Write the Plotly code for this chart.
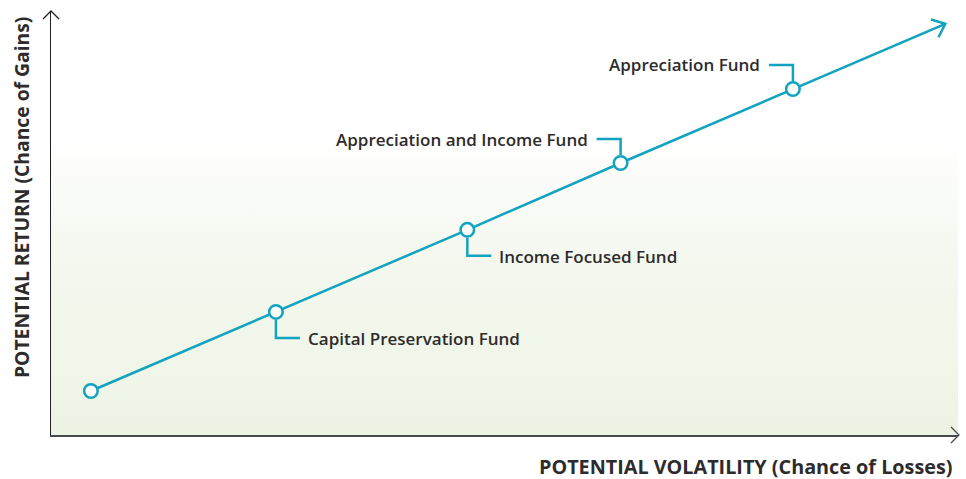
import plotly.graph_objects as go

# ---- data ----
funds = ["Start", "Capital Preservation Fund", "Income Focused Fund",
         "Appreciation and Income Fund", "Appreciation Fund"]
volatility = [4.4, 24.8, 45.9, 62.8, 81.8]      # x, arbitrary 0-100 scale
potential_return = [10.4, 29.1, 48.5, 64.3, 81.8]  # y, arbitrary 0-100 scale
trend_end = (98.6, 97.2)

x_title = "POTENTIAL VOLATILITY (Chance of Losses)"
y_title = "POTENTIAL RETURN (Chance of Gains)"

TEAL = "#12a3bf"
TEXT = "#2e2b2c"
AXIS = "#4a4a4a"
FONT = "Open Sans"

W, H = 966, 479
L, R, T, B = 51, 8, 12, 44

fig = go.Figure()

# gradient background
fig.add_trace(go.Scatter(
    x=[0, 100, 100, 0, 0], y=[0, 0, 70, 70, 0],
    mode="lines", line=dict(width=0), fill="toself",
    fillgradient=dict(type="vertical", start=0, stop=70,
                      colorscale=[[0, "#edf4e4"], [0.6, "#f4f8ef"], [1, "#ffffff"]]),
    hoverinfo="skip", showlegend=False))

# trend line
fig.add_trace(go.Scatter(
    x=volatility + [trend_end[0]], y=potential_return + [trend_end[1]],
    mode="lines", line=dict(color=TEAL, width=2.5),
    hoverinfo="skip", showlegend=False))

# markers
fig.add_trace(go.Scatter(
    x=volatility, y=potential_return, mode="markers",
    marker=dict(size=13.5, color="white", line=dict(color=TEAL, width=2.5)),
    text=funds, hoverinfo="text", showlegend=False))

shapes = []
annotations = []

LABEL_FONT = dict(family=FONT, size=17, color=TEXT, weight=600)

# callouts: (index, direction)
callouts = [(1, "down"), (2, "down"), (3, "up"), (4, "up")]
for i, d in callouts:
    x, y = volatility[i], potential_return[i]
    if d == "down":
        path = "M0,-8 L0,-26 L24,-26"
        annotations.append(dict(x=x, y=y, xref="x", yref="y", text=funds[i],
                                showarrow=False, xanchor="left", yanchor="middle",
                                xshift=30, yshift=-27, font=LABEL_FONT))
    else:
        path = "M0,8 L0,24 L-24,24"
        annotations.append(dict(x=x, y=y, xref="x", yref="y", text=funds[i],
                                showarrow=False, xanchor="right", yanchor="middle",
                                xshift=-31, yshift=24, font=LABEL_FONT))
    shapes.append(dict(type="path", xref="x", yref="y", xsizemode="pixel", ysizemode="pixel",
                       xanchor=x, yanchor=y, path=path,
                       line=dict(color=TEAL, width=2.5), layer="above"))

# trend arrow chevron
shapes.append(dict(type="path", xref="x", yref="y", xsizemode="pixel", ysizemode="pixel",
                   xanchor=trend_end[0], yanchor=trend_end[1],
                   path="M-14.3,4.4 L0,0 L-6.8,-13.4",
                   line=dict(color=TEAL, width=2.5)))
# axis chevrons (paper refs so they are not clipped)
shapes.append(dict(type="path", xref="paper", yref="paper", xsizemode="pixel", ysizemode="pixel",
                   xanchor=0, yanchor=1, path="M-8,-7 L0,1 L8,-7",
                   line=dict(color="#222", width=1.3)))
shapes.append(dict(type="path", xref="paper", yref="paper", xsizemode="pixel", ysizemode="pixel",
                   xanchor=1, yanchor=0, path="M-7,8 L1,0 L-7,-8",
                   line=dict(color=AXIS, width=1.3)))

# axis titles
annotations.append(dict(xref="paper", yref="paper",
                        x=(21 - L) / (W - L - R), y=(H - B - 198) / (H - T - B),
                        text=y_title, textangle=-90, showarrow=False,
                        xanchor="center", yanchor="middle",
                        font=dict(family=FONT, size=19.3, color=TEXT, weight=700)))
annotations.append(dict(xref="paper", yref="paper",
                        x=(954 - L) / (W - L - R), y=-(466 - (H - B)) / (H - T - B),
                        text=x_title, showarrow=False,
                        xanchor="right", yanchor="middle",
                        font=dict(family=FONT, size=19.8, color=TEXT, weight=700)))

fig.update_layout(
    width=W, height=H,
    margin=dict(l=L, r=R, t=T, b=B),
    paper_bgcolor="white", plot_bgcolor="white",
    shapes=shapes, annotations=annotations,
    xaxis=dict(range=[0, 100], showgrid=False, zeroline=False, showticklabels=False,
               ticks="", showline=True, linecolor=AXIS, linewidth=1.5, fixedrange=True),
    yaxis=dict(range=[0, 100], showgrid=False, zeroline=False, showticklabels=False,
               ticks="", showline=True, linecolor="#222", linewidth=1.2, fixedrange=True),
    showlegend=False,
)

fig.write_html("out.html", config={"displayModeBar": False},
               post_script="document.body.style.margin='0';document.body.style.overflow='hidden';")
